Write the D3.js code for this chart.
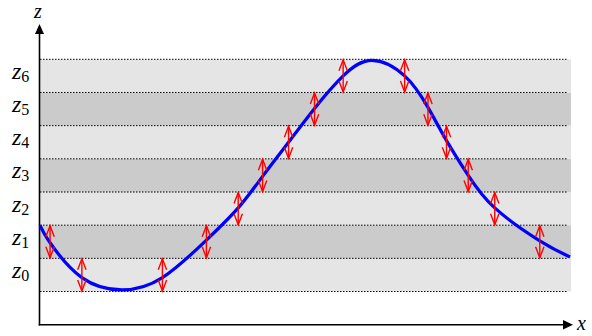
<!DOCTYPE html>
<html><head><meta charset="utf-8">
<script src="https://cdn.jsdelivr.net/npm/d3@7"></script>
<style>body{margin:0;background:#fff}svg{display:block}
text{font-family:"Liberation Serif","Times New Roman",serif}</style>
</head><body><svg id="c" width="592" height="336"></svg>
<script>
// data
const bandLabels = ["0","1","2","3","4","5","6"];
const curveX = [0, 0.19, 0.79, 1.55, 2.31, 3.14, 3.74, 4.20, 4.69, 5.18, 5.72, 6.26, 6.88, 7.32, 7.67, 8.08, 8.58, 9.43, 10];
const curveZ = [2.00, 1.47, 0.42, 0.05, 0.42, 1.55, 2.52, 3.47, 4.50, 5.52, 6.50, 6.97, 6.50, 5.55, 4.55, 3.50, 2.52, 1.53, 1.04];
const arrowX = [0.19, 0.79, 2.31, 3.14, 3.74, 4.20, 4.69, 5.18, 5.72, 6.88, 7.32, 7.67, 8.08, 8.58, 9.43];
const arrowBand = [1, 0, 0, 1, 2, 3, 4, 5, 6, 6, 5, 4, 3, 2, 1];

const svg = d3.select("#c");
const x = d3.scaleLinear([0, 10], [40, 570]);
const y = d3.scaleLinear([-1, 7], [324.7, 59.3]);

// bands
svg.append("g").selectAll("rect").data(bandLabels).join("rect")
  .attr("x", x(0)).attr("width", 571 - x(0))
  .attr("y", (d, i) => y(i + 1)).attr("height", (d, i) => y(i) - y(i + 1))
  .attr("fill", (d, i) => i % 2 === 0 ? "#e5e5e5" : "#cbcbcb");

// dotted boundaries
svg.append("g").selectAll("line").data(d3.range(bandLabels.length + 1)).join("line")
  .attr("x1", x(0)).attr("x2", 568)
  .attr("y1", d => y(d)).attr("y2", d => y(d))
  .attr("stroke", "#000").attr("stroke-width", 1).attr("stroke-dasharray", "1.5,1.5");

// band labels
const lab = svg.append("g").selectAll("text").data(bandLabels).join("text")
  .attr("x", 12).attr("y", (d, i) => (y(i) + y(i + 1)) / 2 + 3);
lab.append("tspan").attr("font-size", 24).attr("font-style", "italic").text("z");
lab.append("tspan").attr("font-size", 16).attr("dy", 3).text(d => d);

// axes
const ax = svg.append("g");
ax.append("line").attr("x1", x(0) - 0.5).attr("x2", x(0) - 0.5).attr("y1", 32).attr("y2", 325.5)
  .attr("stroke", "#000").attr("stroke-width", 1.6);
ax.append("line").attr("x1", x(0) - 1.3).attr("x2", 564).attr("y1", 324.7).attr("y2", 324.7)
  .attr("stroke", "#000").attr("stroke-width", 1.6);
ax.append("path").attr("d", `M${x(0)-0.5},24 L${x(0)-5},34 L${x(0)+4},34 Z`).attr("fill", "#000");
ax.append("path").attr("d", `M573,324.7 L563,320 L563,329.4 Z`).attr("fill", "#000");
ax.append("text").attr("x", 34).attr("y", 18)
  .attr("font-style", "italic").attr("font-size", 20).text("z");
ax.append("text").attr("x", 577).attr("y", 330)
  .attr("font-style", "italic").attr("font-size", 20).text("x");

// curve
const pts = curveX.map((v, i) => [v, curveZ[i]]);
svg.append("path").datum(pts)
  .attr("d", d3.line().x(d => x(d[0])).y(d => y(d[1])).curve(d3.curveNatural))
  .attr("fill", "none").attr("stroke", "#0000ff").attr("stroke-width", 3.2);

// arrows
const defs = svg.append("defs");
defs.append("marker").attr("id", "ah").attr("markerUnits", "userSpaceOnUse")
  .attr("viewBox", "-12 -6 14 12").attr("refX", 0).attr("refY", 0)
  .attr("markerWidth", 14).attr("markerHeight", 12).attr("orient", "auto-start-reverse")
  .append("path").attr("d", "M-11,-4.2 L0,0 L-11,4.2").attr("fill", "none")
  .attr("stroke", "#ff0000").attr("stroke-width", 1.4);
svg.append("g").selectAll("line").data(arrowX).join("line")
  .attr("x1", d => x(d)).attr("x2", d => x(d))
  .attr("y1", (d, i) => y(arrowBand[i]) - 0.5).attr("y2", (d, i) => y(arrowBand[i] + 1) + 0.5)
  .attr("stroke", "#ff0000").attr("stroke-width", 1.4)
  .attr("marker-start", "url(#ah)").attr("marker-end", "url(#ah)");
</script></body></html>
